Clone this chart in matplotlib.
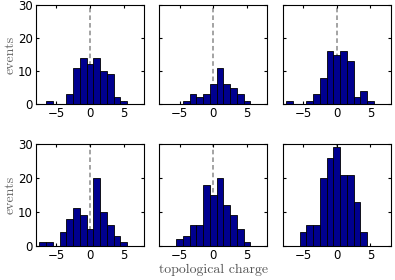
import matplotlib
matplotlib.use("Agg")
import matplotlib.pyplot as plt
import numpy as np

plt.rcParams.update({
    "font.family": "DejaVu Sans", "font.size": 8.5,
    "xtick.direction": "in", "ytick.direction": "in",
    "xtick.top": True, "ytick.right": True,
    "xtick.major.size": 2.5, "ytick.major.size": 2.5,
    "axes.linewidth": 0.8,
})

BLUE = "#00008f"
GREY = "#8a8a8a"

charge = [-7, -6, -5, -4, -3, -2, -1, 0, 1, 2, 3, 4, 5]
counts = [
    [0, 1, 0, 0, 3, 11, 14, 12, 14, 10, 9, 2, 1],
    [0, 0, 0, 1, 3, 2, 3, 6, 11, 6, 5, 3, 1],
    [1, 0, 0, 1, 3, 8, 16, 15, 16, 13, 2, 4, 1],
    [1, 1, 0, 4, 8, 11, 9, 5, 20, 10, 6, 3, 1],
    [0, 0, 2, 3, 6, 6, 18, 15, 20, 12, 9, 5, 1],
    [0, 0, 4, 6, 6, 20, 26, 29, 21, 21, 13, 4, 0],
]

fig = plt.figure(figsize=(3.95, 2.8), dpi=100)
lefts = [36, 159.3, 282.7]
rows = [(5, 104), (144, 245.7)]
W, H = 395.0, 280.0
axes = []
for r, (top, bot) in enumerate(rows):
    for c, lft in enumerate(lefts):
        ax = fig.add_axes([lft / W, 1 - bot / H, 108 / W, (bot - top) / H])
        axes.append(ax)
        i = r * 3 + c
        ax.axvline(0, color=GREY, ls=(0, (3, 2)), lw=1.1, zorder=0)
        ax.bar(charge, counts[i], width=1.0, color=BLUE, edgecolor="black",
               linewidth=0.6, zorder=2)
        ax.set_xlim(-8, 8)
        ax.set_ylim(0, 30)
        ax.set_xticks([-5, 0, 5])
        ax.set_yticks([0, 10, 20, 30])
        ax.tick_params(labelsize=8.5, pad=2.5)
        if c == 0:
            ax.set_ylabel("events", family="cmr10", fontsize=10, color="#666666",
                          labelpad=1)
        else:
            ax.set_yticklabels([])

axes[4].set_xlabel("topological charge", family="cmr10", fontsize=10,
                   color="#555555", labelpad=1)

fig.savefig("out.png", dpi=100)
